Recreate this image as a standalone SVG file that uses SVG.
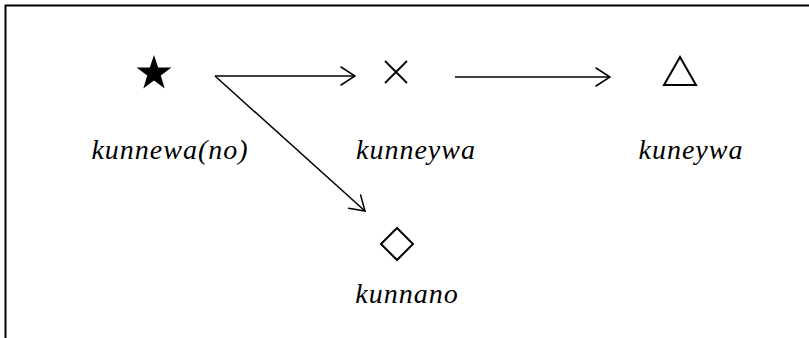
<svg xmlns="http://www.w3.org/2000/svg" width="809" height="338" viewBox="0 0 809 338">
  <defs>
    <style>
      .frame { fill: none; stroke: #000; stroke-width: 2; }
      .edge { fill: none; stroke: #000; stroke-width: 1.5; }
      .head { fill: none; stroke: #000; stroke-width: 1.5; stroke-linecap: round; stroke-linejoin: miter; }
      .label { font-family: "Liberation Serif", "Times New Roman", serif; font-style: italic; font-size: 28px; letter-spacing: 1px; fill: #000; text-anchor: middle; }
      .sym { fill: none; stroke: #000; stroke-width: 2; }
    </style>
    <marker id="open-arrow" viewBox="0 0 16 20" refX="15" refY="10" markerWidth="16" markerHeight="20" markerUnits="userSpaceOnUse" orient="auto">
      <path class="head" d="M1,1 L15,10 L1,19"/>
    </marker>
  </defs>

  <!-- frame: top and left rules -->
  <path class="frame" d="M5.5,338 V5.5 H809"/>

  <g id="connectors">
    <line class="edge" x1="215" y1="76" x2="355" y2="76" marker-end="url(#open-arrow)"/>
    <line class="edge" x1="215" y1="76" x2="365" y2="211" marker-end="url(#open-arrow)"/>
    <line class="edge" x1="455" y1="77" x2="610" y2="77" marker-end="url(#open-arrow)"/>
  </g>

  <g id="node-kunnewa">
    <polygon fill="#000" points="154,55 158.2,67.6 171.5,67.6 160.8,75.6 164.7,88.4 154,80.5 143.3,88.4 147.2,75.6 136.5,67.6 149.8,67.6"/>
    <text class="label" x="170" y="159">kunnewa(no)</text>
  </g>

  <g id="node-kunneywa">
    <path class="sym" d="M385,61 L407,83 M407,61 L385,83" style="stroke-width:1.8"/>
    <text class="label" x="416" y="159">kunneywa</text>
  </g>

  <g id="node-kuneywa">
    <polygon class="sym" points="680,57 696,85 664,85"/>
    <text class="label" x="691" y="159">kuneywa</text>
  </g>

  <g id="node-kunnano">
    <polygon class="sym" points="397,228 413,244 397,260 381,244"/>
    <text class="label" x="407" y="303">kunnano</text>
  </g>
</svg>
